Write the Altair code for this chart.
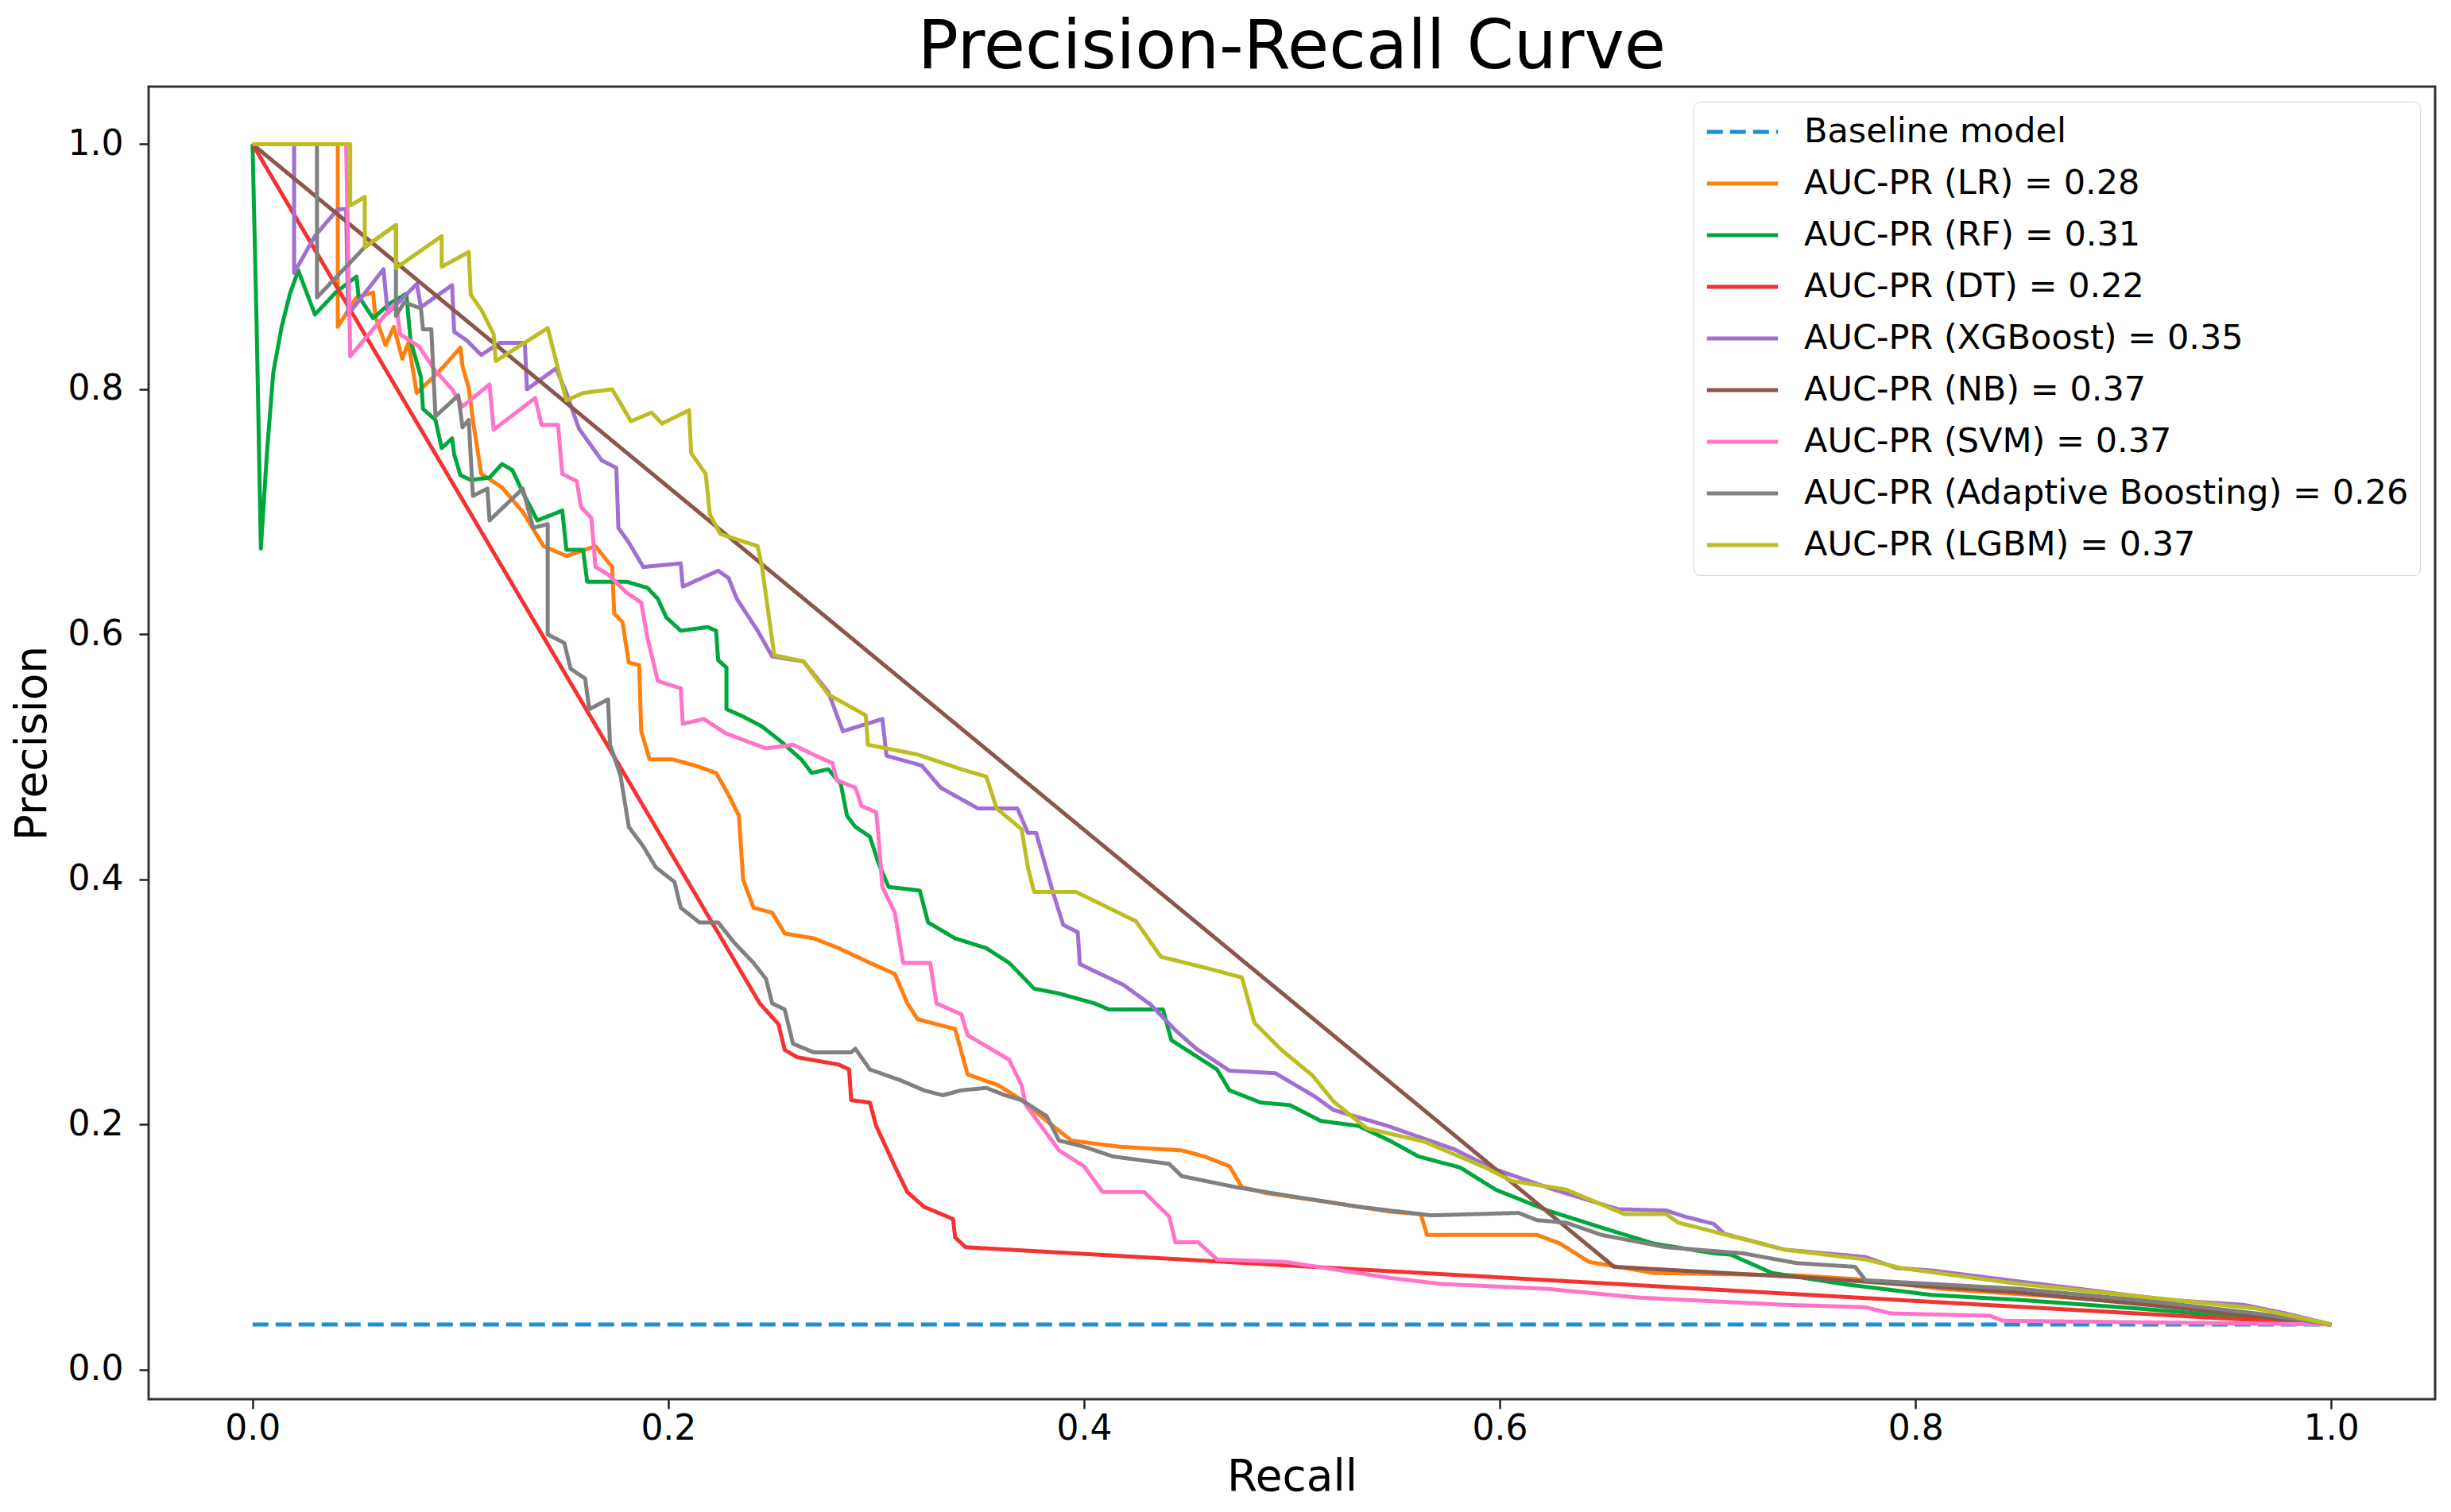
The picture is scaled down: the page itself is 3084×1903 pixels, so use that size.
import altair as alt
import pandas as pd

# ---------------- data ----------------
labels = [
    "Baseline model",
    "AUC-PR (LR) = 0.28",
    "AUC-PR (RF) = 0.31",
    "AUC-PR (DT) = 0.22",
    "AUC-PR (XGBoost) = 0.35",
    "AUC-PR (NB) = 0.37",
    "AUC-PR (SVM) = 0.37",
    "AUC-PR (Adaptive Boosting) = 0.26",
    "AUC-PR (LGBM) = 0.37",
]
colors = ["#1a8fd2", "#ff7f0e", "#00a83c", "#f43232", "#a06fd2",
          "#8c564b", "#ff74c8", "#808080", "#bcbd22"]

rec_base = [0.0, 1.0]
prec_base = [0.037, 0.037]

rec_lr = [0, 0.041, 0.041, 0.05, 0.058, 0.059, 0.064, 0.068, 0.072, 0.075, 0.079, 0.09, 0.1, 0.101, 0.104,
          0.106, 0.11, 0.12, 0.13, 0.14, 0.151, 0.165, 0.173, 0.174, 0.178, 0.181, 0.186, 0.187, 0.191, 0.202,
          0.213, 0.223, 0.229, 0.234, 0.236, 0.241, 0.25, 0.256, 0.27, 0.282, 0.297, 0.309, 0.315, 0.32, 0.338,
          0.344, 0.359, 0.37, 0.385, 0.394, 0.417, 0.447, 0.458, 0.47, 0.476, 0.488, 0.517, 0.547, 0.562, 0.565,
          0.618, 0.629, 0.643, 0.674, 0.743, 0.771, 0.813, 0.865, 0.935, 1.0]
prec_lr = [1, 1, 0.851, 0.875, 0.879, 0.86, 0.836, 0.851, 0.825, 0.838, 0.797, 0.815, 0.834, 0.819, 0.801,
           0.775, 0.731, 0.72, 0.70, 0.672, 0.664, 0.672, 0.655, 0.617, 0.61, 0.577, 0.575, 0.521, 0.498, 0.498,
           0.493, 0.487, 0.469, 0.452, 0.40, 0.377, 0.373, 0.356, 0.352, 0.344, 0.332, 0.323, 0.299, 0.286, 0.278,
           0.241, 0.232, 0.22, 0.199, 0.187, 0.182, 0.179, 0.174, 0.166, 0.149, 0.144, 0.137, 0.129, 0.127, 0.11,
           0.11, 0.103, 0.088, 0.079, 0.077, 0.074, 0.066, 0.06, 0.051, 0.037]

rec_rf = [0, 0.002, 0.004, 0.007, 0.010, 0.014, 0.018, 0.022, 0.03, 0.04, 0.05, 0.051, 0.058, 0.066, 0.074,
          0.076, 0.081, 0.082, 0.088, 0.091, 0.096, 0.097, 0.1, 0.105, 0.114, 0.12, 0.125, 0.13, 0.137, 0.149,
          0.151, 0.159, 0.161, 0.18, 0.19, 0.195, 0.199, 0.206, 0.219, 0.223, 0.224, 0.228, 0.228, 0.236, 0.245,
          0.254, 0.264, 0.269, 0.277, 0.283, 0.286, 0.29, 0.297, 0.301, 0.306, 0.321, 0.325, 0.338, 0.353, 0.364,
          0.376, 0.388, 0.405, 0.412, 0.438, 0.442, 0.453, 0.464, 0.47, 0.485, 0.499, 0.514, 0.532, 0.547, 0.561,
          0.581, 0.598, 0.623, 0.649, 0.674, 0.703, 0.711, 0.731, 0.765, 0.808, 0.85, 0.907, 1.0]
prec_rf = [1, 0.85, 0.67, 0.75, 0.814, 0.851, 0.878, 0.897, 0.861, 0.879, 0.892, 0.876, 0.858, 0.87, 0.878,
           0.84, 0.81, 0.784, 0.775, 0.752, 0.76, 0.747, 0.73, 0.726, 0.728, 0.739, 0.734, 0.716, 0.693, 0.701,
           0.669, 0.669, 0.643, 0.643, 0.638, 0.629, 0.614, 0.603, 0.606, 0.603, 0.579, 0.573, 0.539, 0.533, 0.525,
           0.513, 0.498, 0.487, 0.49, 0.478, 0.452, 0.443, 0.435, 0.414, 0.394, 0.391, 0.365, 0.352, 0.344, 0.332,
           0.311, 0.307, 0.299, 0.294, 0.294, 0.269, 0.257, 0.245, 0.228, 0.218, 0.216, 0.203, 0.199, 0.187, 0.174,
           0.165, 0.147, 0.13, 0.116, 0.103, 0.095, 0.094, 0.079, 0.07, 0.061, 0.057, 0.05, 0.037]

rec_dt = [0, 0.244, 0.253, 0.256, 0.262, 0.282, 0.287, 0.288, 0.297, 0.30, 0.309, 0.315, 0.323, 0.337, 0.338,
          0.343, 1.0]
prec_dt = [1, 0.299, 0.282, 0.261, 0.255, 0.249, 0.245, 0.22, 0.218, 0.199, 0.166, 0.145, 0.133, 0.123, 0.108,
           0.10, 0.037]

rec_xgb = [0, 0.02, 0.02, 0.03, 0.041, 0.045, 0.046, 0.063, 0.065, 0.079, 0.081, 0.096, 0.097, 0.103, 0.11,
           0.119, 0.131, 0.132, 0.146, 0.151, 0.157, 0.168, 0.175, 0.176, 0.181, 0.188, 0.206, 0.207, 0.224, 0.229,
           0.233, 0.243, 0.25, 0.265, 0.277, 0.284, 0.303, 0.305, 0.322, 0.331, 0.349, 0.368, 0.373, 0.377, 0.385,
           0.39, 0.397, 0.398, 0.419, 0.432, 0.444, 0.454, 0.47, 0.492, 0.511, 0.52, 0.546, 0.578, 0.597, 0.626,
           0.657, 0.68, 0.689, 0.703, 0.708, 0.737, 0.776, 0.791, 0.808, 0.85, 0.879, 0.921, 0.958, 0.978, 1.0]
prec_xgb = [1, 1, 0.895, 0.925, 0.947, 0.947, 0.861, 0.898, 0.862, 0.886, 0.867, 0.885, 0.847, 0.84, 0.828,
            0.838, 0.838, 0.80, 0.817, 0.797, 0.768, 0.742, 0.736, 0.687, 0.675, 0.655, 0.658, 0.639, 0.652, 0.646,
            0.629, 0.603, 0.582, 0.578, 0.553, 0.521, 0.531, 0.501, 0.493, 0.475, 0.458, 0.458, 0.438, 0.438, 0.39,
            0.363, 0.357, 0.331, 0.314, 0.298, 0.277, 0.262, 0.244, 0.242, 0.223, 0.212, 0.199, 0.18, 0.164, 0.147,
            0.131, 0.13, 0.125, 0.119, 0.111, 0.098, 0.092, 0.083, 0.081, 0.072, 0.066, 0.057, 0.053, 0.046, 0.037]

rec_nb = [0, 0.655, 0.75, 0.85, 0.93, 1.0]
prec_nb = [1, 0.084, 0.075, 0.063, 0.05, 0.037]

rec_svm = [0, 0.045, 0.047, 0.069, 0.071, 0.08, 0.088, 0.096, 0.101, 0.114, 0.116, 0.136, 0.139, 0.147, 0.149,
           0.156, 0.158, 0.163, 0.165, 0.171, 0.18, 0.187, 0.19, 0.195, 0.206, 0.207, 0.217, 0.228, 0.247, 0.26,
           0.271, 0.279, 0.281, 0.29, 0.293, 0.3, 0.301, 0.303, 0.309, 0.313, 0.326, 0.329, 0.341, 0.344, 0.364,
           0.37, 0.372, 0.388, 0.40, 0.409, 0.429, 0.441, 0.444, 0.455, 0.464, 0.497, 0.547, 0.572, 0.623, 0.666,
           0.737, 0.776, 0.788, 0.836, 0.842, 1.0]
prec_svm = [1, 1, 0.827, 0.871, 0.845, 0.835, 0.815, 0.80, 0.786, 0.804, 0.767, 0.793, 0.771, 0.771, 0.731,
            0.725, 0.704, 0.695, 0.655, 0.649, 0.634, 0.626, 0.597, 0.562, 0.556, 0.527, 0.531, 0.519, 0.507, 0.51,
            0.501, 0.495, 0.481, 0.475, 0.46, 0.455, 0.438, 0.394, 0.373, 0.332, 0.332, 0.299, 0.29, 0.273, 0.253,
            0.232, 0.216, 0.179, 0.166, 0.145, 0.145, 0.125, 0.104, 0.104, 0.09, 0.088, 0.075, 0.07, 0.066, 0.059,
            0.053, 0.051, 0.046, 0.044, 0.04, 0.037]

rec_ada = [0, 0.031, 0.031, 0.054, 0.069, 0.069, 0.073, 0.081, 0.082, 0.086, 0.088, 0.099, 0.101, 0.104, 0.106,
           0.113, 0.114, 0.13, 0.135, 0.142, 0.142, 0.15, 0.153, 0.16, 0.162, 0.171, 0.172, 0.177, 0.181, 0.188,
           0.194, 0.203, 0.206, 0.215, 0.224, 0.232, 0.241, 0.247, 0.25, 0.256, 0.26, 0.27, 0.288, 0.29, 0.297,
           0.312, 0.323, 0.332, 0.341, 0.353, 0.362, 0.37, 0.382, 0.388, 0.40, 0.414, 0.441, 0.447, 0.473, 0.502,
           0.532, 0.567, 0.609, 0.618, 0.632, 0.649, 0.68, 0.717, 0.743, 0.771, 0.776, 0.808, 0.85, 0.907, 0.964, 1.0]
prec_ada = [1, 1, 0.875, 0.916, 0.934, 0.86, 0.871, 0.866, 0.849, 0.849, 0.778, 0.795, 0.769, 0.775, 0.713,
            0.719, 0.693, 0.719, 0.687, 0.69, 0.60, 0.593, 0.572, 0.564, 0.539, 0.547, 0.51, 0.485, 0.443, 0.427,
            0.41, 0.398, 0.377, 0.365, 0.365, 0.348, 0.332, 0.319, 0.299, 0.294, 0.266, 0.259, 0.259, 0.262, 0.245,
            0.236, 0.228, 0.224, 0.228, 0.23, 0.224, 0.22, 0.207, 0.187, 0.182, 0.174, 0.168, 0.158, 0.149, 0.141,
            0.133, 0.126, 0.128, 0.122, 0.12, 0.11, 0.10, 0.095, 0.087, 0.084, 0.073, 0.07, 0.066, 0.057, 0.046, 0.037]

rec_lgbm = [0, 0.047, 0.047, 0.054, 0.054, 0.069, 0.069, 0.091, 0.091, 0.104, 0.105, 0.11, 0.113, 0.116, 0.117,
            0.142, 0.145, 0.148, 0.151, 0.159, 0.173, 0.182, 0.192, 0.197, 0.21, 0.211, 0.218, 0.22, 0.225, 0.243,
            0.245, 0.251, 0.265, 0.277, 0.295, 0.296, 0.32, 0.341, 0.353, 0.358, 0.37, 0.373, 0.376, 0.396, 0.425,
            0.437, 0.463, 0.476, 0.482, 0.495, 0.51, 0.52, 0.536, 0.564, 0.593, 0.606, 0.632, 0.66, 0.68, 0.686,
            0.707, 0.737, 0.776, 0.793, 0.85, 0.907, 0.964, 1.0]
prec_lgbm = [1, 1, 0.95, 0.957, 0.916, 0.934, 0.899, 0.925, 0.90, 0.912, 0.877, 0.865, 0.855, 0.845, 0.823,
             0.85, 0.83, 0.81, 0.791, 0.797, 0.80, 0.774, 0.781, 0.772, 0.783, 0.748, 0.731, 0.698, 0.682, 0.672,
             0.656, 0.583, 0.578, 0.551, 0.534, 0.51, 0.502, 0.49, 0.484, 0.458, 0.441, 0.41, 0.39, 0.39, 0.366,
             0.337, 0.326, 0.32, 0.283, 0.261, 0.24, 0.219, 0.197, 0.186, 0.165, 0.154, 0.147, 0.127, 0.127, 0.12,
             0.111, 0.098, 0.09, 0.083, 0.07, 0.06, 0.05, 0.037]

x_ticks = [0.0, 0.2, 0.4, 0.6, 0.8, 1.0]
y_ticks = [0.0, 0.2, 0.4, 0.6, 0.8, 1.0]

# ---------------- build table ----------------
series = [
    (rec_base, prec_base), (rec_lr, prec_lr), (rec_rf, prec_rf), (rec_dt, prec_dt),
    (rec_xgb, prec_xgb), (rec_nb, prec_nb), (rec_svm, prec_svm), (rec_ada, prec_ada),
    (rec_lgbm, prec_lgbm),
]
rows = []
for lab, (rx, py) in zip(labels, series):
    for i, (a, b) in enumerate(zip(rx, py)):
        rows.append({"model": lab, "recall": a, "precision": b, "i": i})
df = pd.DataFrame(rows)

dashes = [[20, 9]] + [[1, 0]] * 8
FONT = "DejaVu Sans"

leg = alt.Legend(title=None, orient="top-right", offset=19)

chart = (
    alt.Chart(df)
    .mark_line(strokeWidth=5, strokeJoin="round")
    .encode(
        x=alt.X("recall:Q",
                scale=alt.Scale(domain=[-0.05, 1.05], nice=False, zero=False),
                axis=alt.Axis(values=x_ticks, format=".1f", title="Recall",
                              labelPadding=3, titlePadding=12)),
        y=alt.Y("precision:Q",
                scale=alt.Scale(domain=[-0.024, 1.047], nice=False, zero=False),
                axis=alt.Axis(values=y_ticks, format=".1f", title="Precision",
                              labelPadding=20, titlePadding=16)),
        color=alt.Color("model:N", scale=alt.Scale(domain=labels, range=colors), legend=leg),
        strokeDash=alt.StrokeDash("model:N", scale=alt.Scale(domain=labels, range=dashes), legend=leg),
        order=alt.Order("i:Q"),
    )
    .properties(
        width=2877,
        height=1652,
        padding={"left": 5, "top": 10, "right": 5, "bottom": 5},
        title=alt.TitleParams("Precision-Recall Curve", fontSize=85, font=FONT,
                              fontWeight="normal", color="black", anchor="middle",
                              frame="group", offset=5),
    )
    .configure_axis(
        labelFont=FONT, labelFontSize=44, labelColor="black",
        titleFont=FONT, titleFontSize=55, titleFontWeight="normal", titleColor="black",
        tickColor="#222222", tickSize=12, tickWidth=2.5, domain=False, grid=False,
    )
    .configure_view(stroke="#333333", strokeWidth=3)
    .configure_legend(
        labelFont=FONT, labelFontSize=43, labelColor="black", labelLimit=0,
        symbolType="stroke", symbolSize=8000, symbolStrokeWidth=5,
        strokeColor="#d4d4d4", fillColor="white", cornerRadius=8,
        padding=14, rowPadding=17, labelOffset=30, clipHeight=48,
    )
)

chart.save("out.html", embed_options={"renderer": "svg", "actions": False})
